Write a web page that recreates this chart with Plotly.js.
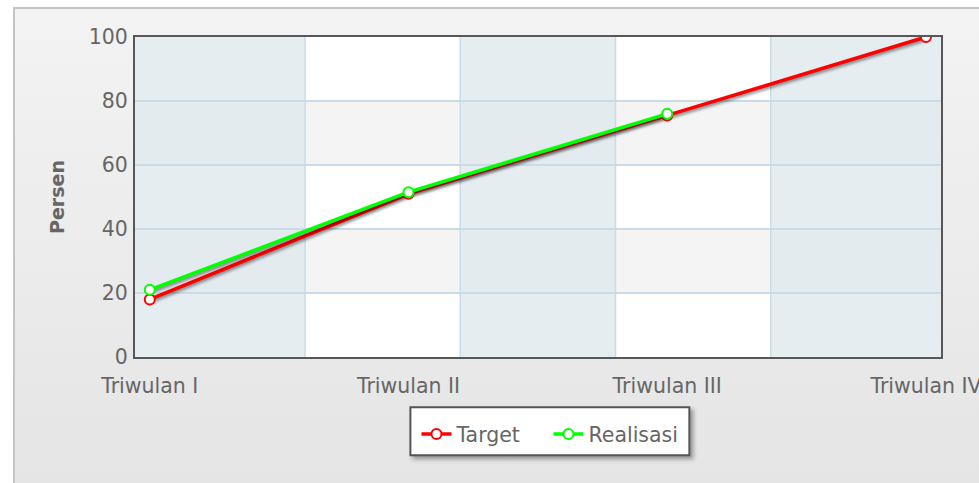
<!DOCTYPE html>
<html>
<head>
<meta charset="utf-8">
<script src="https://cdn.plot.ly/plotly-3.0.1.min.js"></script>
<style>
  html, body { margin: 0; padding: 0; background: #ffffff; }
  #panel { position: absolute; left: 13px; top: 7px; width: 990px; height: 500px;
           border: 2px solid #c4c4c4; background: linear-gradient(#f3f3f3, #e4e4e4); }
  #chart { position: absolute; left: 0; top: 0; width: 979px; height: 483px; }
  .scatterlayer .js-line { filter: drop-shadow(1.5px 2.5px 1.5px rgba(0,0,0,0.45)); }
  .layer-above .shapelayer path { filter: drop-shadow(3px 3px 2px rgba(0,0,0,0.35)); }
</style>
</head>
<body>
<div id="panel"></div>
<div id="chart"></div>
<script>
// ---- data ----
const categories = ['Triwulan I', 'Triwulan II', 'Triwulan III', 'Triwulan IV'];
const target = [18, 51, 75.5, 100];
const realisasi = [21, 51.5, 76];
const yTicks = [0, 20, 40, 60, 80, 100];
const seriesNames = ['Target', 'Realisasi'];

// ---- style ----
const FONT = 'DejaVu Sans, Verdana, sans-serif';
const FS = 20.5;
const xRange = [-0.057, 3.058];
const gridColor = '#c9dbe6';
const vDivStep = 0.6;           // 5 vertical divisions across the category span
const vDivs = [1, 2, 3, 4].map(i => i * vDivStep);

const shapes = [];
// alternating horizontal bands
[[20, 40], [60, 80]].forEach(([a, b]) => shapes.push({
  type: 'rect', xref: 'paper', yref: 'y', x0: 0, x1: 1, y0: a, y1: b,
  fillcolor: '#f4f4f4', line: { width: 0 }, layer: 'below'
}));
// alternating vertical bands
const vEdges = [xRange[0]].concat(vDivs, [xRange[1]]);
for (let i = 0; i < vEdges.length - 1; i += 2) {
  shapes.push({
    type: 'rect', xref: 'x', yref: 'paper', x0: vEdges[i], x1: vEdges[i + 1], y0: 0, y1: 1,
    fillcolor: 'rgba(222,232,238,0.8)', line: { width: 0 }, layer: 'below'
  });
}
// vertical div lines
vDivs.forEach(v => shapes.push({
  type: 'line', xref: 'x', yref: 'paper', x0: v, x1: v, y0: 0, y1: 1,
  line: { color: gridColor, width: 1.5 }, layer: 'below'
}));
// legend box (drawn under the legend entries)
shapes.push({
  type: 'rect', xref: 'paper', yref: 'paper', x0: 0.3417, x1: 0.6878, y0: -0.1573, y1: -0.3069,
  fillcolor: '#ffffff', line: { color: '#555555', width: 2 }, layer: 'above'
});

const traces = [
  { name: seriesNames[0], x: categories, y: target, type: 'scatter', mode: 'lines+markers',
    line: { color: '#ff0000', width: 3.5 },
    marker: { symbol: 'circle', size: 10, color: '#ffffff', line: { color: '#ff0000', width: 2 } } },
  { name: seriesNames[1], x: categories.slice(0, realisasi.length), y: realisasi, type: 'scatter', mode: 'lines+markers',
    line: { color: '#00ff00', width: 3.5 },
    marker: { symbol: 'circle', size: 10, color: '#ffffff', line: { color: '#00ff00', width: 2 } } }
];

const layout = {
  width: 979, height: 483,
  margin: { l: 134.5, r: 38.3, t: 36.5, b: 125.5, pad: 0 },
  paper_bgcolor: 'rgba(0,0,0,0)',
  plot_bgcolor: '#ffffff',
  font: { family: FONT, size: FS, color: '#666666' },
  showlegend: true,
  xaxis: {
    type: 'category', categoryorder: 'array', categoryarray: categories,
    range: xRange, showgrid: false, zeroline: false,
    showline: true, mirror: true, linecolor: '#575757', linewidth: 2,
    ticks: 'outside', ticklen: 9, tickcolor: 'rgba(0,0,0,0)',
    tickfont: { family: FONT, size: FS, color: '#666666' }, fixedrange: true
  },
  yaxis: {
    range: [0, 100], tickmode: 'array', tickvals: yTicks, ticktext: yTicks.map(String),
    showgrid: true, gridcolor: gridColor, gridwidth: 1.5, zeroline: false,
    showline: true, mirror: true, linecolor: '#575757', linewidth: 2,
    ticks: 'outside', ticklen: 1, tickcolor: 'rgba(0,0,0,0)',
    tickfont: { family: FONT, size: FS, color: '#666666' },
    title: { text: '<b>Persen</b>', font: { family: FONT, size: 19, color: '#666666' }, standoff: 19 },
    fixedrange: true
  },
  legend: {
    orientation: 'h', x: 0.3492, xanchor: 'left', y: -0.2414, yanchor: 'middle',
    bgcolor: 'rgba(0,0,0,0)', borderwidth: 0, entrywidth: 87, entrywidthmode: 'pixels',
    font: { family: FONT, size: FS, color: '#666666' }
  },
  shapes: shapes
};

Plotly.newPlot('chart', traces, layout, { displayModeBar: false, staticPlot: true });
</script>
</body>
</html>
